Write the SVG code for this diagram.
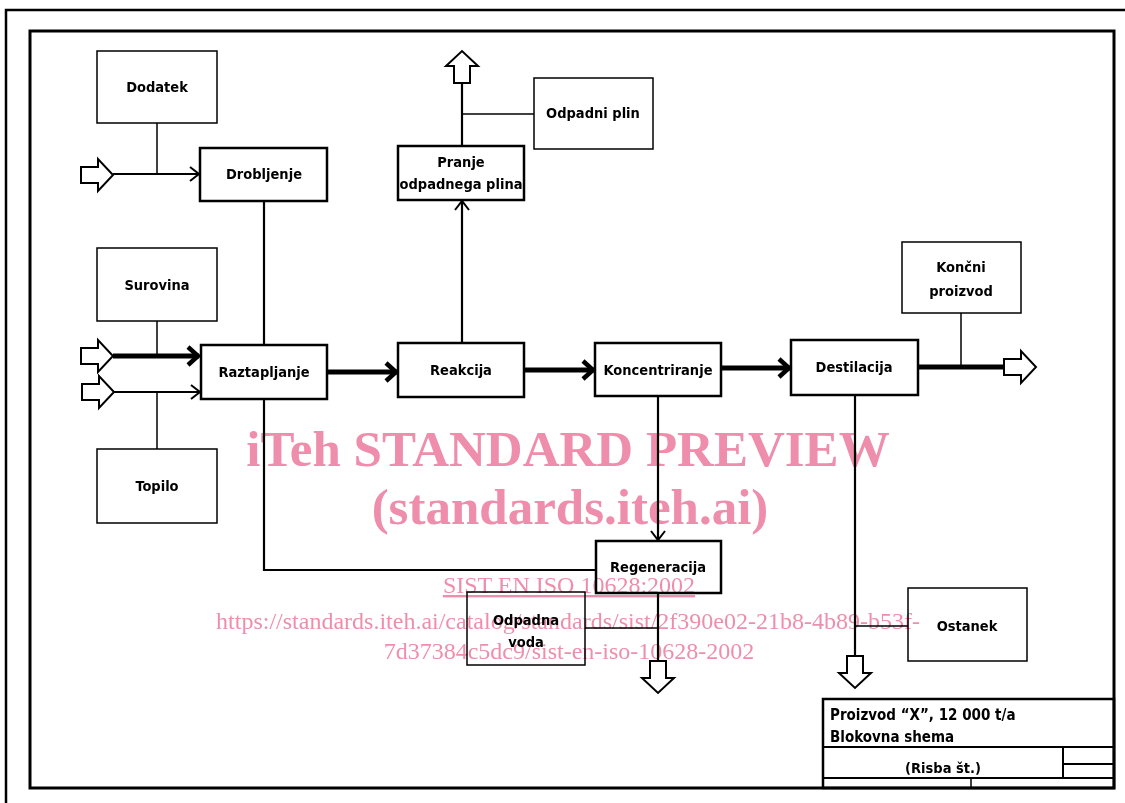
<svg xmlns="http://www.w3.org/2000/svg" xmlns:xlink="http://www.w3.org/1999/xlink" width="1125" height="803" viewBox="0 0 1125 803">
<style>
.frame{fill:none;stroke:#000;stroke-width:3}
.proc{fill:none;stroke:#000;stroke-width:2.5}
.ext{fill:none;stroke:#000;stroke-width:1.5}
.lbl{font-family:"DejaVu Sans Condensed","DejaVu Sans",sans-serif;font-weight:bold;font-size:14.5px;fill:#000;text-anchor:middle}
.tb{font-family:"DejaVu Sans Condensed","DejaVu Sans",sans-serif;font-weight:bold;font-size:15px;fill:#000}
.thin{fill:none;stroke:#000;stroke-width:1.5}
.mid{fill:none;stroke:#000;stroke-width:2.2}
.thick{fill:none;stroke:#000;stroke-width:5}
.hollow{fill:#fff;stroke:#000;stroke-width:2;stroke-linejoin:miter}
.wm{font-family:"Liberation Serif","Times New Roman",serif;fill:#EE8EAC;text-anchor:middle;mix-blend-mode:multiply}
</style>
<defs>
<marker id="open" markerUnits="userSpaceOnUse" markerWidth="20" markerHeight="20" viewBox="-12 -10 14 20" refX="0" refY="0" orient="auto">
<path d="M-9,-7 L0,0 L-9,7" fill="none" stroke="#000" stroke-width="2"/>
</marker>
<marker id="bold" markerUnits="userSpaceOnUse" markerWidth="24" markerHeight="24" viewBox="-14 -12 16 24" refX="0" refY="0" orient="auto">
<path d="M-11,-9 L-1,0 L-11,9" fill="none" stroke="#000" stroke-width="4.5"/>
</marker>
<polygon id="harrow" points="-32,-8 -15,-8 -15,-16 0,0 -15,16 -15,8 -32,8" class="hollow"/>
</defs>
<rect width="1125" height="803" fill="#fff"/>
<g id="frame">
<path d="M6,803 V10 H1125" fill="none" stroke="#000" stroke-width="2.5"/>
<rect class="frame" x="30" y="31" width="1084" height="757"/>
</g>
<g id="connectors">
<line class="thin" x1="157" y1="123" x2="157" y2="174"/>
<line class="mid" x1="113" y1="174" x2="199" y2="174" marker-end="url(#open)"/>
<line class="mid" x1="264" y1="201" x2="264" y2="345"/>
<line class="thin" x1="157" y1="321" x2="157" y2="356"/>
<line class="thick" x1="113" y1="356" x2="199" y2="356" marker-end="url(#bold)"/>
<line class="mid" x1="114" y1="392" x2="200" y2="392" marker-end="url(#open)"/>
<line class="thin" x1="157" y1="392" x2="157" y2="449"/>
<line class="thick" x1="327" y1="372" x2="397" y2="372" marker-end="url(#bold)"/>
<line class="mid" x1="462" y1="343" x2="462" y2="201" marker-end="url(#open)"/>
<line class="mid" x1="462" y1="146" x2="462" y2="83"/>
<line class="thin" x1="462" y1="114" x2="534" y2="114"/>
<line class="thick" x1="524" y1="370" x2="594" y2="370" marker-end="url(#bold)"/>
<line class="thick" x1="721" y1="368" x2="790" y2="368" marker-end="url(#bold)"/>
<line class="thick" x1="918" y1="367" x2="1005" y2="367"/>
<line class="thin" x1="961" y1="313" x2="961" y2="367"/>
<line class="mid" x1="658" y1="396" x2="658" y2="540" marker-end="url(#open)"/>
<polyline class="mid" points="596,570 264,570 264,399"/>
<line class="mid" x1="658" y1="593" x2="658" y2="661"/>
<line class="thin" x1="585" y1="628" x2="658" y2="628"/>
<line class="mid" x1="855" y1="395" x2="855" y2="657"/>
<line class="thin" x1="855" y1="626" x2="908" y2="626"/>
<use xlink:href="#harrow" transform="translate(113,175)"/>
<use xlink:href="#harrow" transform="translate(113,356)"/>
<use xlink:href="#harrow" transform="translate(114,392)"/>
<use xlink:href="#harrow" transform="translate(1036,367)"/>
<use xlink:href="#harrow" transform="translate(462,51) rotate(-90)"/>
<use xlink:href="#harrow" transform="translate(658,693) rotate(90)"/>
<use xlink:href="#harrow" transform="translate(855,688) rotate(90)"/>
</g>
<g id="dodatek"><rect class="ext" x="97" y="51" width="120" height="72"/><text class="lbl" x="157" y="92">Dodatek</text></g>
<g id="drobljenje"><rect class="proc" x="200" y="148" width="127" height="53"/><text class="lbl" x="264" y="179">Drobljenje</text></g>
<g id="surovina"><rect class="ext" x="97" y="248" width="120" height="73"/><text class="lbl" x="157" y="290">Surovina</text></g>
<g id="topilo"><rect class="ext" x="97" y="449" width="120" height="74"/><text class="lbl" x="157" y="491">Topilo</text></g>
<g id="raztapljanje"><rect class="proc" x="201" y="345" width="126" height="54"/><text class="lbl" x="264" y="377">Raztapljanje</text></g>
<g id="reakcija"><rect class="proc" x="398" y="343" width="126" height="54"/><text class="lbl" x="461" y="375">Reakcija</text></g>
<g id="pranje"><rect class="proc" x="398" y="146" width="126" height="54"/><text class="lbl" x="461" y="167">Pranje</text><text class="lbl" x="461" y="189">odpadnega plina</text></g>
<g id="odpadni-plin"><rect class="ext" x="534" y="78" width="119" height="71"/><text class="lbl" x="593" y="118">Odpadni plin</text></g>
<g id="koncentriranje"><rect class="proc" x="595" y="343" width="126" height="53"/><text class="lbl" x="658" y="375">Koncentriranje</text></g>
<g id="destilacija"><rect class="proc" x="791" y="340" width="127" height="55"/><text class="lbl" x="854" y="372">Destilacija</text></g>
<g id="koncni-proizvod"><rect class="ext" x="902" y="242" width="119" height="71"/><text class="lbl" x="961" y="272">Končni</text><text class="lbl" x="961" y="296">proizvod</text></g>
<g id="regeneracija"><rect class="proc" x="596" y="541" width="125" height="52"/><text class="lbl" x="658" y="572">Regeneracija</text></g>
<g id="odpadna-voda"><rect class="ext" x="467" y="592" width="118" height="73"/><text class="lbl" x="526" y="625">Odpadna</text><text class="lbl" x="526" y="647">voda</text></g>
<g id="ostanek"><rect class="ext" x="908" y="588" width="119" height="73"/><text class="lbl" x="967" y="631">Ostanek</text></g>
<g id="title-block">
<rect x="823" y="699" width="291" height="89" fill="none" stroke="#000" stroke-width="2.5"/>
<line x1="823" y1="747" x2="1114" y2="747" stroke="#000" stroke-width="2"/>
<line x1="1063" y1="747" x2="1063" y2="778" stroke="#000" stroke-width="2"/>
<line x1="1063" y1="764" x2="1114" y2="764" stroke="#000" stroke-width="2"/>
<line x1="823" y1="778" x2="1114" y2="778" stroke="#000" stroke-width="2"/>
<line x1="971" y1="778" x2="971" y2="788" stroke="#000" stroke-width="1.5"/>
<text class="tb" x="830" y="720">Proizvod “X”, 12 000 t/a</text>
<text class="tb" x="830" y="742">Blokovna shema</text>
<text class="lbl" x="943" y="773">(Risba št.)</text>
</g>
<g id="watermark">
<text class="wm" x="568" y="466" font-size="51" font-weight="bold">iTeh STANDARD PREVIEW</text>
<text class="wm" x="570" y="524" font-size="51" font-weight="bold">(standards.iteh.ai)</text>
<text class="wm" x="569" y="593" font-size="24" text-decoration="underline">SIST EN ISO 10628:2002</text>
<text class="wm" x="568" y="629" font-size="24">https://standards.iteh.ai/catalog/standards/sist/2f390e02-21b8-4b89-b53f-</text>
<text class="wm" x="569" y="659" font-size="24">7d37384c5dc9/sist-en-iso-10628-2002</text>
</g>
</svg>
